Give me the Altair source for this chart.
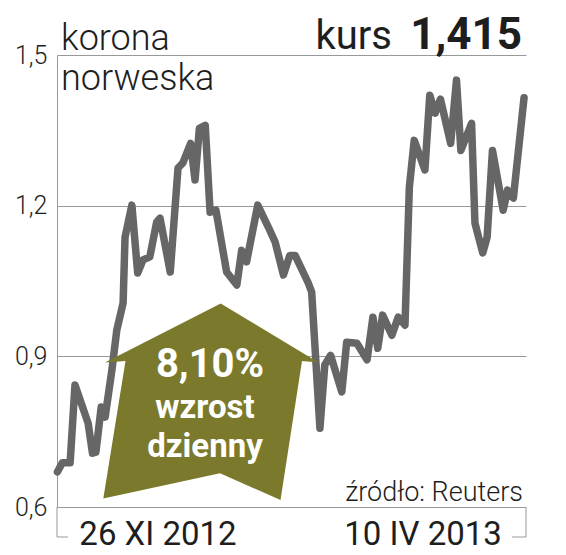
import altair as alt
import pandas as pd

# ---- data (x = trading-day position, y = NOK rate) ----
day = [0.1, 1.1, 2.7, 3.7, 6.4, 7.3, 8.0, 9.1, 9.9, 11.3, 12.3, 13.6, 14.0, 15.4,
       16.6, 17.7, 19.1, 20.5, 21.2, 23.3, 24.9, 25.9, 27.5, 28.4, 29.3, 30.5,
       31.5, 32.7, 34.9, 37.0, 38.0, 39.0, 41.3, 43.5, 44.9, 46.6, 47.9, 49.0,
       51.7, 52.4, 54.1, 55.1, 56.3, 58.6, 59.6, 61.7, 63.8, 65.0, 66.0, 67.0,
       68.9, 70.2, 71.6, 72.5, 73.5, 75.7, 76.7, 77.8, 78.9, 81.0, 82.2, 83.1,
       85.3, 86.0, 87.6, 88.5, 89.6, 91.8, 92.7, 93.9, 96.1]
rate = [0.670, 0.688, 0.688, 0.843, 0.767, 0.707, 0.709, 0.799, 0.779, 0.873,
        0.952, 1.006, 1.137, 1.201, 1.066, 1.092, 1.098, 1.167, 1.175, 1.068,
        1.275, 1.285, 1.324, 1.251, 1.354, 1.360, 1.187, 1.191, 1.068, 1.042,
        1.111, 1.088, 1.201, 1.157, 1.127, 1.062, 1.101, 1.101, 1.046, 1.028,
        0.757, 0.883, 0.902, 0.829, 0.928, 0.926, 0.893, 0.978, 0.916, 0.982,
        0.942, 0.978, 0.962, 1.237, 1.330, 1.271, 1.420, 1.384, 1.412, 1.324,
        1.450, 1.310, 1.364, 1.165, 1.106, 1.137, 1.310, 1.191, 1.231, 1.215,
        1.415]

# arrow annotation outline (in data units)
arrow_day = [9.53, 14.09, 9.88, 33.68, 53.81, 50.41, 45.99, 33.54, 9.53]
arrow_val = [0.617, 0.8905, 0.8876, 1.0054, 0.8876, 0.8905, 0.6139, 0.667, 0.617]

y_ticks = [0.6, 0.9, 1.2, 1.5]

W, H = 469, 452
FONT = "Roboto"
GRAY = "#999999"
LINE = "#666666"
OLIVE = "#7b7a2c"
INK = "#1e1e1e"

line_df = pd.DataFrame({"day": day, "kurs": rate})
arrow_df = pd.DataFrame({"day": arrow_day, "kurs": arrow_val,
                         "ord": list(range(len(arrow_day)))})

xs = alt.Scale(domain=[0, 96.5], nice=False, zero=False)
ys = alt.Scale(domain=[0.6, 1.5], nice=False, zero=False)

line = alt.Chart(line_df).mark_line(
    color=LINE, strokeWidth=7.5, strokeCap="round", strokeJoin="round"
).encode(
    x=alt.X("day:Q", scale=xs, axis=None),
    y=alt.Y("kurs:Q", scale=ys, axis=alt.Axis(
        values=y_ticks, grid=True, gridColor=GRAY, gridWidth=1,
        domain=True, domainColor=GRAY, domainWidth=1, ticks=False,
        labelFont=FONT, labelFontSize=25, labelFontWeight=300,
        labelColor=INK, labelPadding=10, title=None,
        labelExpr="replace(format(datum.value, '.1f'), '.', ',')")),
)

arrow = alt.Chart(arrow_df).mark_line(
    filled=True, color=OLIVE, fill=OLIVE, strokeWidth=0
).encode(
    x=alt.X("day:Q", scale=xs),
    y=alt.Y("kurs:Q", scale=ys),
    order="ord:Q",
)


def txt(text, x, y, size, weight="normal", align="left", color=INK):
    return alt.Chart(pd.DataFrame({"t": [text]})).mark_text(
        font=FONT, fontSize=size, fontWeight=weight, align=align,
        baseline="alphabetic", color=color
    ).encode(x=alt.value(x), y=alt.value(y), text="t:N")


def rule(x, y, x2=None, y2=None):
    enc = dict(x=alt.value(x), y=alt.value(y))
    if x2 is not None:
        enc["x2"] = alt.value(x2)
    if y2 is not None:
        enc["y2"] = alt.value(y2)
    return alt.Chart(pd.DataFrame({"a": [0]})).mark_rule(
        color=GRAY, strokeWidth=1).encode(**enc)


layers = [
    line,
    arrow,
    rule(0, H, y2=H + 30),
    rule(0, H + 30, x2=11),
    rule(W, H, y2=H + 30),
    rule(W - 14, H + 30, x2=W),
    txt("korona", 4, -5, 36, 300),
    txt("norweska", 4, 35, 36, 300),
    txt("kurs", 335, -6, 40, "normal", "right"),
    txt("1,415", 465, -6, 44, "bold", "right"),
    txt("8,10%", 153, 322, 40, "bold", "center", "white"),
    txt("wzrost", 148, 363, 33, "bold", "center", "white"),
    txt("dzienny", 148, 402, 33, "bold", "center", "white"),
    txt("źródło: Reuters", 466, 446, 27, 300, "right"),
    txt("26 XI 2012", 101, 490, 33, "normal", "center"),
    txt("10 IV 2013", 366, 490, 33, "normal", "center"),
]

chart = alt.layer(*layers).properties(
    width=W, height=H,
    autosize=alt.AutoSizeParams(type="none"),
    padding={"left": 49, "top": 47, "right": 25, "bottom": 47},
    background="white",
).configure_view(stroke=None)

chart.save("out.html", embed_options={"renderer": "svg", "actions": False})
